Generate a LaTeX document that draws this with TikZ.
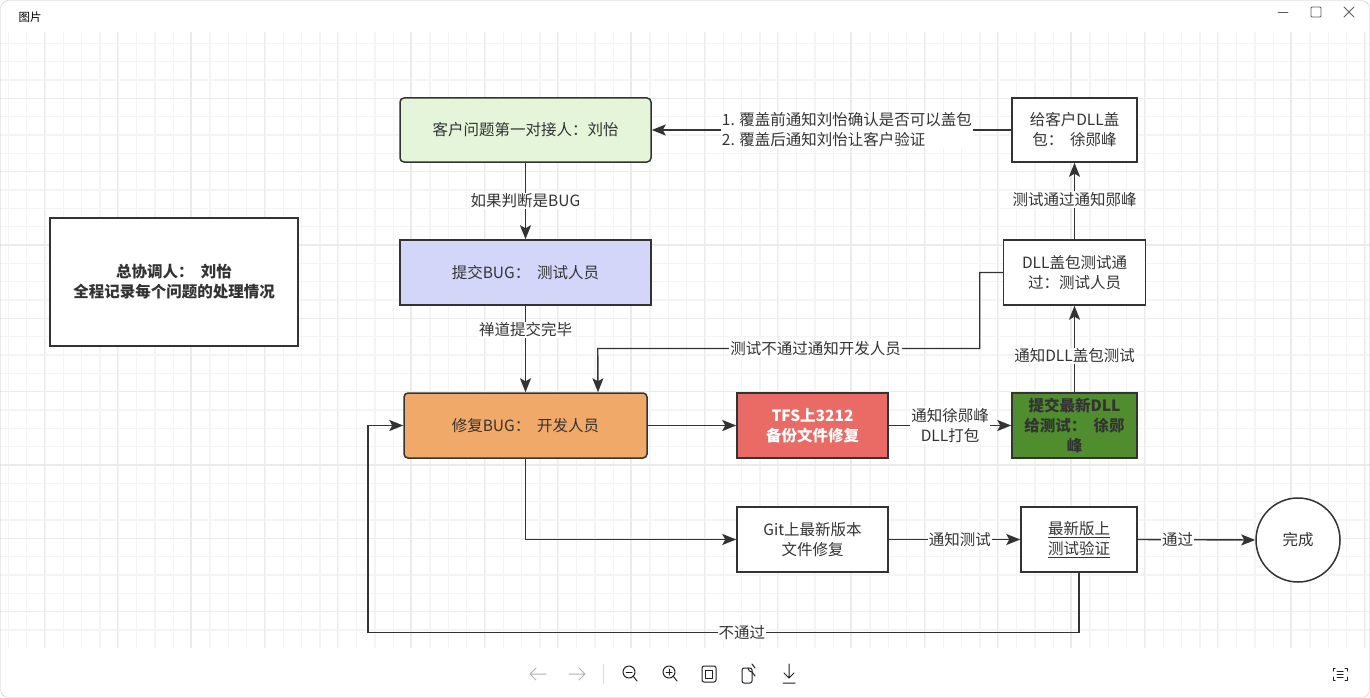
\documentclass[tikz,border=0pt]{standalone}
\usepackage{fontspec}
\setmainfont{Noto Sans CJK SC}
\usepackage{xcolor}
\usepackage{tikz}
\usetikzlibrary{arrows.meta,calc}
\definecolor{flowink}{HTML}{333333}
\definecolor{qagreen}{HTML}{E4F5DA}
\definecolor{buglilac}{HTML}{D3D6F8}
\definecolor{fixorange}{HTML}{F0A968}
\definecolor{tfsred}{HTML}{EA6B66}
\definecolor{dllgreen}{HTML}{508D2E}
\definecolor{gridminor}{HTML}{F4F4F4}
\definecolor{gridmajor}{HTML}{EBEBEB}
\definecolor{chromegrey}{HTML}{C9C9C9}
\definecolor{icongrey}{HTML}{1F1F1F}
\newcommand{\flowfont}{\fontsize{15.5}{20}\selectfont}
\tikzset{
  flowbox/.style={draw=flowink,line width=1.5pt,inner sep=0pt,align=center,
    text=flowink,font=\flowfont},
  edgelabel/.style={fill=white,inner sep=1pt,text=flowink,font=\flowfont,align=center},
  flowarrow/.style={draw=flowink,line width=1.4pt,
    -{Stealth[length=14pt,width=11pt,inset=3pt]}},
  iconline/.style={draw=icongrey,line width=1pt,line cap=round,line join=round}
}

\begin{document}
\begin{tikzpicture}[x=1pt,y=-1pt]
  \useasboundingbox (0,0) rectangle (1370,698);
  \fill[white] (0,0) rectangle (1370,698);

  % grid of the canvas
  \foreach \k in {0,...,74}
    \draw[gridminor,line width=1.1pt] ({8.33+18.333*\k},32) -- ++(0,616);
  \foreach \k in {0,...,32}
    \draw[gridminor,line width=1.1pt] (0,{43.33+18.333*\k}) -- ++(1370,0);
  \foreach \k in {0,...,18}
    \draw[gridmajor,line width=1.1pt] ({44.33+73.33*\k},32) -- ++(0,616);
  \foreach \k in {0,...,7}
    \draw[gridmajor,line width=1.1pt] (0,{98.33+73.33*\k}) -- ++(1370,0);

  % window chrome
  \draw[chromegrey,rounded corners=8pt] (0.5,0.5) rectangle (1369.5,697.5);
  \node[anchor=west,font=\fontsize{11.5}{13}\selectfont,text=black] (wintitle) at (15,17) {图片};
  \draw[iconline,draw=flowink!80,line width=0.8pt] (1278,12) -- (1288,12);
  \draw[iconline,draw=flowink!80,line width=0.8pt,rounded corners=1pt] (1311,7) rectangle (1321,17);
  \draw[iconline,draw=flowink!80,line width=0.8pt] (1344,7) -- (1354,17) (1354,7) -- (1344,17);

  % toolbar
  \draw[iconline,draw=gray!60] (546,674) -- (530,674) (536,668) -- (530,674) -- (536,680);
  \draw[iconline,draw=gray!60] (569,674) -- (585,674) (579,668) -- (585,674) -- (579,680);
  \draw[gray!30,line width=0.8pt] (603,664) -- (603,684);
  \foreach \cx/\plus in {629/0,669/1} {
    \draw[iconline] (\cx,672) circle (6);
    \draw[iconline] (\cx+4,676) -- (\cx+8,681);
    \draw[iconline] (\cx-3,672) -- (\cx+3,672);
    \ifnum\plus=1 \draw[iconline] (\cx,669) -- (\cx,675); \fi
  }
  \draw[iconline,rounded corners=2pt] (702,666) rectangle (716,682);
  \draw[iconline] (705.5,670) rectangle (712.5,678);
  \draw[iconline,rounded corners=2pt] (742,668) rectangle (752,683);
  \draw[iconline] (748,668) arc[start angle=180,end angle=90,radius=4] -- ++(3,4);
  \draw[iconline] (752,664) -- (755,668);
  \draw[iconline] (789,664) -- (789,678) (784,673) -- (789,678) -- (794,673) (783,683) -- (795,683);
  \draw[iconline] (1335,668) -- (1333,668) -- (1333,671) (1345,668) -- (1347,668) -- (1347,671)
    (1333,677) -- (1333,680) -- (1335,680) (1347,677) -- (1347,680) -- (1345,680);
  \draw[iconline] (1337,671) -- (1343,671) (1337,674) -- (1343,674) (1337,677) -- (1343,677);

  % process boxes
  \node[flowbox,fill=qagreen,rounded corners=4pt,minimum width=251,minimum height=64]
    (qa) at (525.5,130) {客户问题第一对接人：刘怡};
  \node[flowbox,fill=buglilac,minimum width=251,minimum height=65]
    (bug) at (525.5,272.5) {提交BUG： \ 测试人员};
  \node[flowbox,fill=fixorange,rounded corners=4pt,minimum width=243,minimum height=65]
    (fix) at (525.5,425.5) {修复BUG： \ 开发人员};
  \node[flowbox,fill=tfsred,text=white,font=\flowfont\bfseries,minimum width=151,minimum height=65]
    (tfs) at (812.5,425.5) {TFS上3212\\备份文件修复};
  \node[flowbox,fill=dllgreen,font=\flowfont\bfseries,minimum width=125,minimum height=65]
    (dll) at (1074.5,425.5) {提交最新DLL\\给测试： \ 徐郧\\峰};
  \node[flowbox,fill=white,minimum width=142,minimum height=65]
    (dlltest) at (1074.5,272.5) {DLL盖包测试通\\过：测试人员};
  \node[flowbox,fill=white,minimum width=125,minimum height=64]
    (cover) at (1074.5,130) {给客户DLL盖\\包： \ 徐郧峰};
  \node[flowbox,fill=white,font=\flowfont\bfseries,minimum width=248,minimum height=128]
    (lead) at (174,282) {总协调人： \ 刘怡\\全程记录每个问题的处理情况};
  \node[flowbox,fill=white,minimum width=151,minimum height=65]
    (git) at (812.5,539.5) {Git上最新版本\\文件修复};
  \node[flowbox,fill=white,minimum width=116,minimum height=65]
    (verify) at (1079,539.5) {\underline{最新版上}\\\underline{测试验证}};
  \node[flowbox,fill=white,circle,minimum size=84]
    (done) at (1298,540) {完成};

  % connectors
  \draw[flowarrow] (qa.south) -- node[edgelabel,pos=0.5]{如果判断是BUG} (bug.north);
  \draw[flowarrow] (bug.south) -- node[edgelabel,pos=0.28]{禅道提交完毕} (fix.north);
  \draw[flowarrow] (dlltest.west) -- ++(-23,0) -- ++(0,76)
    -- node[edgelabel,pos=0.43]{测试不通过通知开发人员} ++(-382,0)
    -- ([xshift=72.5pt]fix.north);
  \draw[flowarrow] (fix.east) -- (tfs.west);
  \draw[flowarrow] (tfs.east) -- node[edgelabel]{通知徐郧峰\\DLL打包} (dll.west);
  \draw[flowarrow] (dll.north) -- node[edgelabel,pos=0.42]{通知DLL盖包测试} (dlltest.south);
  \draw[flowarrow] (dlltest.north) -- node[edgelabel,pos=0.52]{测试通过通知郧峰} (cover.south);
  \draw[flowarrow] (cover.west) -- node[edgelabel,pos=0.457,align=left]{1. 覆盖前通知刘怡确认是否可以盖包\\2. 覆盖后通知刘怡让客户验证} (qa.east);
  \draw[flowarrow] (fix.south) |- (git.west);
  \draw[flowarrow] (git.east) -- node[edgelabel,pos=0.54]{通知测试} (verify.west);
  \draw[flowarrow] (verify.east) -- node[edgelabel,pos=0.34]{通过} (done.west);
  \draw[flowarrow] (verify.south) -- ++(0,60)
    -- node[edgelabel,pos=0.474]{不通过} ++(-711,0) |- (fix.west);
\end{tikzpicture}
\end{document}
